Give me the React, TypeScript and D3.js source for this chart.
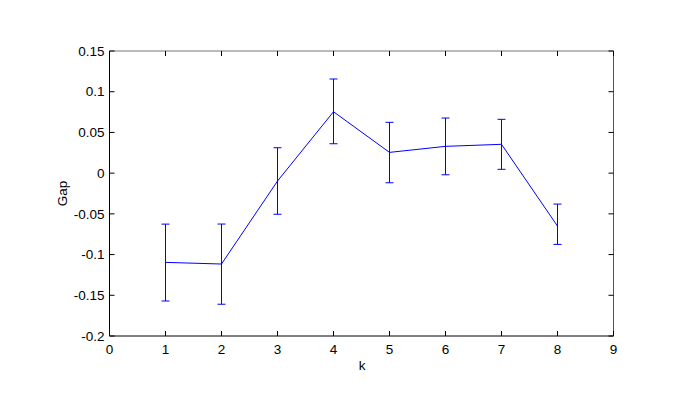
import React from "react";
import * as d3 from "d3";

const ks = [1, 2, 3, 4, 5, 6, 7, 8];
const gap = [-0.1096, -0.1116, -0.0097, 0.0754, 0.0255, 0.0329, 0.0354, -0.065];
const upper = [-0.0626, -0.0625, 0.0312, 0.1156, 0.0624, 0.0677, 0.0661, -0.038];
const lower = [-0.157, -0.161, -0.0505, 0.0361, -0.0118, -0.002, 0.0047, -0.0875];
const xTicks = [0, 1, 2, 3, 4, 5, 6, 7, 8, 9];
const yTicks = [-0.2, -0.15, -0.1, -0.05, 0, 0.05, 0.1, 0.15];
const yTickLabels = ["-0.2", "-0.15", "-0.1", "-0.05", "0", "0.05", "0.1", "0.15"];

export default function App() {
  const W = 700, H = 400;
  const L = 109.5, R = 613.5, T = 51, B = 336;
  const x = d3.scaleLinear().domain([0, 9]).range([L, R]);
  const y = d3.scaleLinear().domain([-0.2, 0.15]).range([B, T]);
  const line = d3.line<number>().x((_, i) => x(ks[i])).y((d) => y(d));
  const tl = 5;
  const font = "'Liberation Sans', Arial, sans-serif";
  const fs = 13.5;
  const blue = "#0000ff";
  return (
    <svg width={W} height={H} style={{ position: "absolute", left: 0, top: 0, background: "#fff" }}>
      <rect x={0} y={0} width={W} height={H} fill="#fff" />
      <line x1={L} y1={T} x2={R} y2={T} stroke="#777" strokeWidth={1} />
      <line x1={R} y1={T} x2={R} y2={B} stroke="#555" strokeWidth={1} />
      <line x1={L} y1={T} x2={L} y2={B} stroke="#000" strokeWidth={1} />
      <line x1={L} y1={B} x2={R} y2={B} stroke="#000" strokeWidth={1} />
      {xTicks.map((t) => (
        <g key={"x" + t}>
          <line x1={x(t)} x2={x(t)} y1={B} y2={B - tl} stroke="#000" />
          <line x1={x(t)} x2={x(t)} y1={T} y2={T + tl} stroke="#000" />
          <text x={x(t)} y={B + 17.5} textAnchor="middle" fontFamily={font} fontSize={fs}>{t}</text>
        </g>
      ))}
      {yTicks.map((t, i) => (
        <g key={"y" + t}>
          <line x1={L} x2={L + tl} y1={y(t)} y2={y(t)} stroke="#000" />
          <line x1={R} x2={R - tl} y1={y(t)} y2={y(t)} stroke="#000" />
          <text x={L - 5} y={y(t) + 4.7} textAnchor="end" fontFamily={font} fontSize={fs}>{yTickLabels[i]}</text>
        </g>
      ))}
      <text x={362} y={370} textAnchor="middle" fontFamily={font} fontSize={fs}>k</text>
      <text transform={`translate(67,${(T + B) / 2}) rotate(-90)`} textAnchor="middle" fontFamily={font} fontSize={fs}>Gap</text>
      {ks.map((k, i) => (
        <g key={"e" + k} stroke={blue} strokeWidth={1}>
          <line x1={x(k)} x2={x(k)} y1={y(upper[i])} y2={y(lower[i])} />
          <line x1={x(k) - 4} x2={x(k) + 4} y1={y(upper[i])} y2={y(upper[i])} />
          <line x1={x(k) - 4} x2={x(k) + 4} y1={y(lower[i])} y2={y(lower[i])} />
        </g>
      ))}
      <path d={line(gap) || ""} fill="none" stroke={blue} strokeWidth={1} />
    </svg>
  );
}
